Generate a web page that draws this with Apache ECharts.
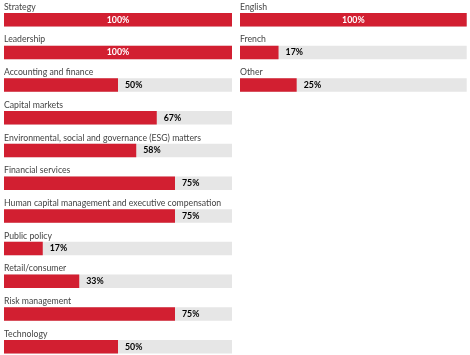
<!DOCTYPE html>
<html><head><meta charset="utf-8">
<script src="https://cdn.jsdelivr.net/npm/echarts@6/dist/echarts.min.js"></script>
<style>html,body{margin:0;padding:0;background:#fff}#c{width:470px;height:355px}</style>
</head><body><div id="c"></div>
<script>
const skillCategories = ["Strategy","Leadership","Accounting and finance","Capital markets","Environmental, social and governance (ESG) matters","Financial services","Human capital management and executive compensation","Public policy","Retail/consumer","Risk management","Technology"];
const skillValues = [100,100,50,67,58,75,75,17,33,75,50];
const languageCategories = ["English","French","Other"];
const languageValues = [100,17,25];

const RED = '#d21f31', TRACK = '#e6e6e6';
const FONT = 'Lato';
const pitch = 32.7, firstCenter = 19.7, barH = 13.5;

function valueLabel(v){
  if (v >= 100) return {value:v, label:{position:'inside', color:'#fff'}};
  return {value:v, label:{position:'right', distance:7, color:'#000'}};
}
function build(idx, cats, vals){
  return [
    {type:'bar', xAxisIndex:idx, yAxisIndex:idx, barWidth:barH, silent:true,
     data:cats.map(()=>100), itemStyle:{color:TRACK}, z:1,
     label:{show:true, position:[0,-6], align:'left', verticalAlign:'middle',
       formatter:(p)=>cats[p.dataIndex], fontFamily:FONT, fontSize:8.7, color:'#444'}},
    {type:'bar', xAxisIndex:idx, yAxisIndex:idx, barWidth:barH, barGap:'-100%', silent:true,
     data:vals.map(valueLabel), itemStyle:{color:RED}, z:2,
     label:{show:true, formatter:'{c}%', fontFamily:FONT, fontWeight:'bold', fontSize:8.8}}
  ];
}
const chart = echarts.init(document.getElementById('c'), null, {renderer:'canvas'});
chart.setOption({
  animation:false,
  grid:[
    {left:4, width:228, top:firstCenter, height:pitch*(skillCategories.length-1)},
    {left:240, width:226.7, top:firstCenter, height:pitch*(languageCategories.length-1)}
  ],
  xAxis:[
    {gridIndex:0, type:'value', min:0, max:100, show:false},
    {gridIndex:1, type:'value', min:0, max:100, show:false}
  ],
  yAxis:[
    {gridIndex:0, type:'category', data:skillCategories, inverse:true, show:false, boundaryGap:false},
    {gridIndex:1, type:'category', data:languageCategories, inverse:true, show:false, boundaryGap:false}
  ],
  series:[...build(0, skillCategories, skillValues), ...build(1, languageCategories, languageValues)]
});
</script></body></html>
